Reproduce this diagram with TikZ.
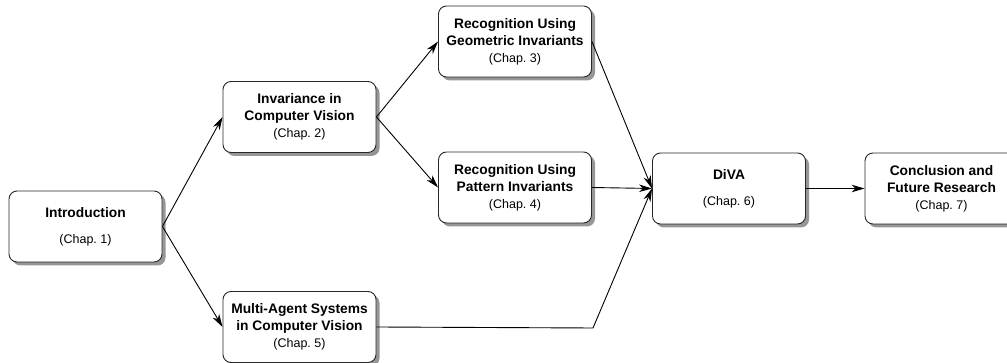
\documentclass[tikz,border=0pt]{standalone}
\usepackage{fontspec}
\setmainfont{Liberation Sans}
\usetikzlibrary{positioning, arrows.meta, shadows}
\definecolor{boxline}{RGB}{40,40,40}
\definecolor{shadowgray}{RGB}{150,150,150}
\newcommand{\chapref}[1]{{\normalfont\fontsize{12.5}{17}\selectfont (Chap.~#1)}}

\begin{document}
\begin{tikzpicture}[x=1pt, y=1pt,
    chapbox/.style={draw=boxline, line width=0.9pt, rounded corners=8pt, fill=white,
      minimum width=153pt, minimum height=71pt, inner sep=2pt, align=center,
      font=\fontsize{13.8}{17}\selectfont\bfseries,
      drop shadow={shadow xshift=3.5pt, shadow yshift=-3.5pt, fill=shadowgray, opacity=1}},
    link/.style={-{Stealth[length=13pt, width=7.5pt, inset=4pt]}, line width=0.9pt}]
    \useasboundingbox (0,0) rectangle (1007,363);

    % Chapter boxes
    \node[chapbox] (intro) at (85.5, 136.5) {Introduction\\[9pt]\chapref{1}};
    \node[chapbox] (inv) at (299.5, 246) {Invariance in\\Computer Vision\\\chapref{2}};
    \node[chapbox] (geo) at (515, 321.5) {Recognition Using\\Geometric Invariants\\\chapref{3}};
    \node[chapbox] (pat) at (515, 175.5) {Recognition Using\\Pattern Invariants\\\chapref{4}};
    \node[chapbox] (mas) at (299.5, 36) {Multi-Agent Systems\\in Computer Vision\\\chapref{5}};
    \node[chapbox] (diva) at (729, 174.5) {DiVA\\[9pt]\chapref{6}};
    \node[chapbox] (concl) at (941.5, 174.5) {Conclusion and\\Future Research\\\chapref{7}};

    % Bend of the lower path
    \coordinate (bend) at (593, 35);

    % Connections
    \draw[link] (intro.east) -- (inv.west);
    \draw[link] (intro.east) -- (mas.west);
    \draw[link] (inv.east) -- (geo.west);
    \draw[link] (inv.east) -- (pat.west);
    \draw[link] (geo.east) -- (diva.west);
    \draw[link] (pat.east) -- (diva.west);
    \draw[link] (mas.east) -- (bend) -- (diva.west);
    \draw[link] (diva.east) -- (concl.west);
\end{tikzpicture}
\end{document}
